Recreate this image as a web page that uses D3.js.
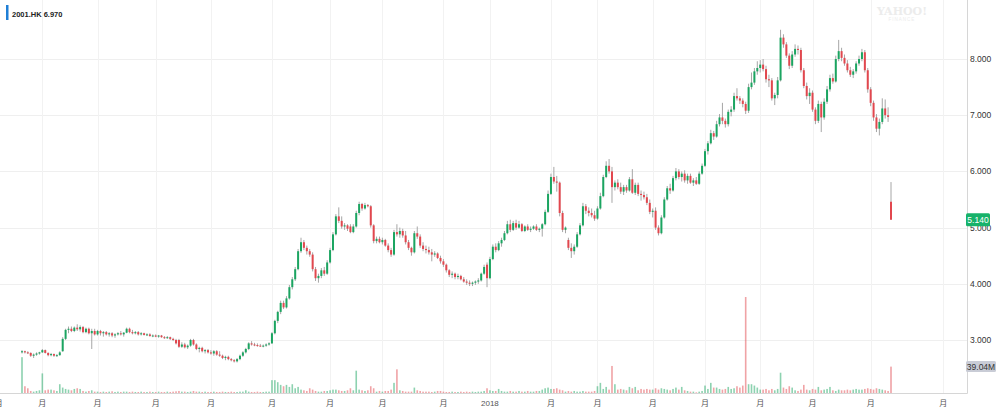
<!DOCTYPE html>
<html lang="zh">
<head>
<meta charset="utf-8">
<title>2001.HK</title>
<script src="https://d3js.org/d3.v7.min.js"></script>
<style>
  body { margin: 0; background: #fff; }
  text { font-family: "Helvetica Neue", Arial, "Liberation Sans", "Noto Sans CJK SC", sans-serif; }
</style>
</head>
<body>
<script>

// daily candles: [open, high, low, close]
var ohlc = [
  [2.78,2.82,2.76,2.80],[2.80,2.81,2.76,2.78],[2.78,2.80,2.75,2.77],[2.77,2.78,2.70,2.72],[2.72,2.76,2.68,2.74],
  [2.74,2.78,2.72,2.76],[2.76,2.79,2.74,2.78],[2.78,2.84,2.77,2.82],[2.82,2.83,2.76,2.77],[2.77,2.78,2.71,2.73],
  [2.73,2.77,2.71,2.75],[2.75,2.76,2.70,2.72],[2.72,2.75,2.70,2.73],[2.73,2.80,2.72,2.78],[2.80,3.05,2.79,3.02],
  [3.02,3.20,3.00,3.18],[3.18,3.24,3.12,3.20],[3.20,3.24,3.14,3.16],[3.16,3.24,3.14,3.22],[3.22,3.28,3.16,3.19],
  [3.19,3.26,3.15,3.23],[3.23,3.25,3.12,3.14],[3.14,3.22,3.12,3.20],[3.20,3.22,3.10,3.12],[3.12,3.20,2.84,3.16],
  [3.16,3.20,3.08,3.10],[3.10,3.18,3.08,3.16],[3.16,3.18,3.08,3.12],[3.12,3.16,3.06,3.14],[3.14,3.16,3.08,3.10],
  [3.10,3.14,3.06,3.12],[3.12,3.14,3.05,3.08],[3.08,3.12,3.04,3.10],[3.10,3.14,3.08,3.12],[3.12,3.16,3.08,3.10],
  [3.10,3.14,3.06,3.13],[3.13,3.22,3.12,3.20],[3.20,3.22,3.12,3.14],[3.14,3.18,3.10,3.12],[3.12,3.16,3.10,3.14],
  [3.14,3.16,3.08,3.10],[3.10,3.14,3.08,3.12],[3.12,3.13,3.08,3.09],[3.09,3.12,3.07,3.10],[3.10,3.12,3.06,3.07],
  [3.07,3.10,3.05,3.08],[3.08,3.10,3.05,3.06],[3.06,3.09,3.04,3.08],[3.08,3.09,3.04,3.05],[3.05,3.07,3.02,3.04],
  [3.04,3.07,3.02,3.05],[3.05,3.06,3.00,3.02],[3.02,3.04,2.98,3.00],[3.00,3.02,2.92,2.94],[3.00,3.02,2.86,2.88],
  [2.88,2.96,2.86,2.92],[2.92,2.95,2.85,2.87],[2.87,2.92,2.84,2.90],[2.90,3.02,2.88,3.00],[3.00,3.02,2.90,2.92],
  [2.92,2.94,2.82,2.84],[2.84,2.88,2.78,2.86],[2.86,2.88,2.78,2.80],[2.80,2.84,2.76,2.82],[2.82,2.84,2.76,2.78],
  [2.78,2.82,2.74,2.76],[2.76,2.82,2.72,2.80],[2.80,2.82,2.72,2.74],[2.74,2.80,2.70,2.72],[2.72,2.74,2.66,2.68],
  [2.68,2.72,2.64,2.70],[2.70,2.72,2.64,2.66],[2.66,2.68,2.62,2.64],[2.64,2.66,2.60,2.62],[2.62,2.68,2.60,2.66],
  [2.66,2.74,2.64,2.72],[2.72,2.80,2.70,2.78],[2.78,2.86,2.76,2.84],[2.84,2.96,2.82,2.94],[2.94,2.98,2.90,2.92],
  [2.92,2.95,2.89,2.91],[2.91,2.94,2.88,2.90],[2.90,2.93,2.88,2.89],[2.89,2.92,2.87,2.90],[2.90,2.94,2.88,2.92],
  [2.92,2.96,2.90,2.94],[2.94,3.14,2.93,3.12],[3.12,3.36,3.10,3.34],[3.34,3.52,3.30,3.50],[3.50,3.70,3.46,3.66],
  [3.66,3.70,3.55,3.58],[3.58,3.78,3.56,3.74],[3.74,3.98,3.72,3.94],[3.94,4.12,3.90,4.08],[4.08,4.30,4.05,4.26],
  [4.26,4.62,4.24,4.58],[4.58,4.82,4.55,4.74],[4.74,4.78,4.60,4.64],[4.64,4.68,4.52,4.58],[4.58,4.62,4.48,4.52],
  [4.52,4.56,4.22,4.26],[4.26,4.30,4.05,4.10],[4.10,4.18,4.02,4.14],[4.14,4.28,4.10,4.24],[4.24,4.30,4.14,4.18],
  [4.18,4.42,4.16,4.38],[4.38,4.64,4.36,4.60],[4.60,4.92,4.58,4.88],[4.88,5.24,4.86,5.20],[5.20,5.36,5.08,5.12],
  [5.12,5.20,4.98,5.02],[5.02,5.08,4.96,5.04],[5.04,5.06,4.94,4.98],[5.02,5.06,4.90,4.92],[4.92,5.06,4.90,5.02],
  [5.02,5.30,5.00,5.26],[5.26,5.46,5.22,5.42],[5.42,5.44,5.30,5.34],[5.34,5.44,5.32,5.40],[5.40,5.42,5.36,5.38],
  [5.38,5.40,5.00,5.04],[5.04,5.06,4.72,4.76],[4.76,4.84,4.72,4.80],[4.80,4.84,4.72,4.74],[4.74,4.82,4.70,4.78],
  [4.78,4.80,4.66,4.68],[4.68,4.72,4.56,4.60],[4.60,4.64,4.48,4.52],[4.52,4.96,4.50,4.92],[4.92,5.06,4.84,4.88],
  [4.88,5.00,4.82,4.94],[4.94,4.98,4.82,4.86],[4.86,4.94,4.70,4.74],[4.74,4.78,4.60,4.64],[4.64,4.66,4.50,4.56],
  [4.56,4.94,4.54,4.90],[4.90,5.02,4.80,4.84],[4.84,4.88,4.64,4.68],[4.68,4.74,4.58,4.62],[4.62,4.68,4.54,4.60],
  [4.60,4.66,4.52,4.56],[4.56,4.62,4.40,4.52],[4.52,4.58,4.48,4.54],[4.54,4.56,4.44,4.46],[4.46,4.50,4.36,4.40],
  [4.40,4.44,4.30,4.34],[4.34,4.36,4.20,4.24],[4.24,4.26,4.12,4.16],[4.16,4.22,4.10,4.18],[4.18,4.20,4.08,4.12],
  [4.12,4.18,4.08,4.14],[4.14,4.16,4.06,4.08],[4.08,4.12,4.02,4.04],[4.04,4.08,3.98,4.02],[4.02,4.06,3.96,4.00],
  [4.00,4.04,3.96,4.02],[4.02,4.06,3.98,4.04],[4.04,4.10,4.00,4.06],[4.06,4.20,4.04,4.18],[4.18,4.34,4.16,4.30],
  [4.34,4.38,3.94,4.10],[4.10,4.48,4.08,4.44],[4.44,4.70,4.42,4.66],[4.66,4.72,4.56,4.60],[4.60,4.76,4.58,4.72],
  [4.72,4.82,4.66,4.78],[4.78,4.94,4.76,4.90],[4.90,5.12,4.88,5.06],[5.06,5.14,4.92,4.96],[4.96,5.12,4.94,5.08],
  [5.08,5.14,4.96,5.00],[5.00,5.12,4.98,5.06],[5.06,5.08,4.92,4.94],[4.94,5.04,4.92,5.02],[5.02,5.06,4.94,4.96],
  [4.96,5.02,4.92,4.98],[4.98,5.04,4.96,5.02],[5.02,5.06,4.94,4.96],[4.96,5.00,4.92,4.98],[4.98,5.08,4.84,5.06],
  [5.06,5.32,5.04,5.28],[5.28,5.66,5.26,5.60],[5.60,5.96,5.58,5.90],[5.90,6.08,5.78,5.82],[5.82,5.92,5.64,5.80],
  [5.80,5.82,5.20,5.26],[5.26,5.30,4.92,4.96],[4.96,5.02,4.90,5.00],[4.78,4.82,4.60,4.64],[4.64,4.72,4.46,4.58],
  [4.58,4.70,4.52,4.66],[4.66,4.92,4.64,4.88],[4.88,5.08,4.86,5.04],[5.04,5.44,5.02,5.38],[5.38,5.42,5.24,5.30],
  [5.30,5.36,5.20,5.26],[5.26,5.34,5.18,5.22],[5.22,5.30,5.12,5.16],[5.16,5.38,5.14,5.34],[5.34,5.62,5.32,5.56],
  [5.56,5.94,5.54,5.90],[5.90,6.18,5.88,6.10],[6.10,6.22,5.96,6.00],[6.00,6.08,5.44,5.72],[5.72,5.84,5.66,5.80],
  [5.80,5.86,5.68,5.72],[5.72,5.80,5.60,5.64],[5.64,5.76,5.58,5.72],[5.72,5.76,5.62,5.66],[5.66,5.90,5.64,5.86],
  [5.86,6.04,5.60,5.62],[5.62,5.80,5.58,5.76],[5.76,5.80,5.56,5.60],[5.60,5.66,5.48,5.58],[5.58,5.64,5.50,5.54],
  [5.54,5.60,5.40,5.44],[5.44,5.50,5.24,5.28],[5.28,5.34,5.18,5.30],[5.30,5.36,4.96,5.00],[5.00,5.04,4.86,4.90],
  [4.90,5.22,4.88,5.18],[5.18,5.54,5.16,5.50],[5.50,5.74,5.48,5.70],[5.70,5.78,5.60,5.66],[5.66,5.92,5.64,5.88],
  [5.88,6.06,5.84,6.00],[6.00,6.04,5.86,5.90],[5.90,6.00,5.82,5.96],[5.96,6.02,5.80,5.84],[5.84,5.96,5.78,5.92],
  [5.92,5.96,5.78,5.80],[5.80,5.88,5.74,5.84],[5.84,5.90,5.76,5.78],[5.78,6.00,5.76,5.96],[5.96,6.14,5.94,6.10],
  [6.10,6.40,6.08,6.36],[6.36,6.54,6.30,6.50],[6.50,6.74,6.48,6.68],[6.68,6.72,6.56,6.62],[6.62,6.90,6.60,6.84],
  [6.84,7.02,6.80,6.96],[6.96,7.22,6.84,6.90],[6.90,6.94,6.78,6.84],[6.84,7.10,6.80,7.06],[7.06,7.16,6.98,7.10],
  [7.10,7.40,7.06,7.34],[7.34,7.48,7.26,7.30],[7.30,7.34,7.20,7.26],[7.26,7.30,7.14,7.20],[7.20,7.24,7.02,7.08],
  [7.08,7.56,7.04,7.50],[7.50,7.76,7.46,7.58],[7.58,7.84,7.54,7.78],[7.78,7.96,7.72,7.84],[7.84,7.98,7.76,7.90],
  [7.90,8.00,7.78,7.82],[7.82,7.88,7.58,7.64],[7.64,7.72,7.50,7.62],[7.62,7.66,7.26,7.30],[7.30,7.40,7.18,7.36],
  [7.36,7.68,7.30,7.62],[7.62,8.52,7.60,8.38],[8.38,8.44,8.20,8.26],[8.26,8.30,8.02,8.06],[8.06,8.10,7.82,7.88],
  [7.88,8.14,7.84,8.08],[8.08,8.26,8.04,8.18],[8.18,8.24,8.08,8.16],[8.16,8.20,7.76,7.80],[7.80,7.84,7.48,7.52],
  [7.52,7.58,7.28,7.34],[7.34,7.48,7.20,7.40],[7.40,7.44,7.06,7.10],[7.10,7.14,6.84,6.90],[6.90,7.26,6.86,7.20],
  [7.20,7.24,6.70,6.96],[6.96,7.30,6.92,7.24],[7.24,7.52,7.20,7.46],[7.46,7.72,7.42,7.66],[7.66,7.74,7.56,7.60],
  [7.60,8.06,7.58,8.00],[8.00,8.34,7.96,8.14],[8.14,8.20,7.96,8.02],[8.02,8.08,7.88,7.92],[7.92,7.98,7.76,7.80],
  [7.80,7.86,7.68,7.72],[7.72,7.82,7.66,7.78],[7.78,7.96,7.74,7.92],[7.92,8.06,7.88,8.00],[8.00,8.18,7.96,8.12],
  [8.12,8.16,7.76,7.80],[7.80,7.84,7.40,7.46],[7.46,7.50,7.16,7.22],[7.22,7.26,6.90,6.96],[6.96,7.02,6.70,6.76],
  [6.76,6.94,6.64,6.88],[6.88,7.30,6.84,7.12],[7.12,7.28,6.94,7.00],[7.00,7.14,6.88,6.97],[5.46,5.81,5.14,5.14]
];

// daily volume, millions of shares
var volume = [
  53,10,7,3,2,3,4,29,4,5,  5,4,3,13,8,6,5,4,6,7,  6,3,2,3,4,2,2,1.5,2,1.5,
  2,2.5,1.5,2,1.5,2,2,1.5,2,1.5,  1.5,2,1.5,1.5,2,1.5,1.5,2,1.5,1.5,  2,1.5,2,2.5,3,2,2,1.5,2,3,
  2,2,1.5,2,1.5,1.5,2,1.5,1.5,2,  1.5,1.5,2,1.5,1.5,2,2,4,2,1.5,  1.5,2,1.5,1.5,2,2,19,19,16,12,
  10,12,9,13,7,9,5,4,3,7,  5,3,2,2,3,3,4,5,5,4,  3,3,4,7,4,33,5,4,3,4,
  10,7,2,3,2,3,3,5,15,35,  4,3,2,2,2,8,4,3,2,2,  2,1.5,2,3,3,2,1.5,1.5,2,1.5,
  1.5,2,1.5,2,1.5,2,1.5,2,2,3,  7,4,3,3,6,3,2,2,3,2,  2,3,2,2,3,2,2,3,3,5,
  7,8,6,6,7,5,4,2,3,2,  3,2,2,3,2,2,2,3,10,15,  6,9,5,40,13,5,6,5,4,9,
  7,9,4,6,5,6,5,5,7,5,  7,6,5,4,6,8,5,9,4,3,  2,2,1,2,3,11,6,15,8,8,
  6,5,6,9,6,7,10,8,11,142,  13,13,11,8,5,5,6,4,6,4,  6,30,8,6,10,8,4,3,5,12,
  5,4,6,5,9,4,5,6,9,4,  3,5,4,4,5,4,5,6,5,5,  6,7,6,5,7,6,5,4,3,39.04
];

// month ticks (candle index) and their labels
var tickIndex  = [-8, 7, 26, 46, 65, 86, 106, 124, 145, 161, 182, 198, 217, 235, 254, 272, 292, 317];
var tickLabels = ["月","月","月","月","月","月","月","月","月","2018","月","月","月","月","月","月","月","月"];
var priceTicks = [3, 4, 5, 6, 7, 8];

var ticker = "2001.HK";
var lastClose = "6.970";
var quoteText = "5.140";
var volumeText = "39.04M";

// size of svg
var w = 1000;
var h = 411;
var plotRight = 967;
var plotBottom = 393;

var green = "#1ba561";
var red = "#e2474e";
var wickColor = "#a6a6a6";

// scales
var xScale = d3.scaleLinear().domain([0, ohlc.length - 1]).range([22, 891]);
var yScale = d3.scaleLinear().domain([3, 8]).range([340, 59]);
var vScale = d3.scaleLinear().domain([0, d3.max(volume)]).range([plotBottom, 297]);

var svg = d3.select("body").append("svg").attr("width", w).attr("height", h);
svg.append("rect").attr("width", w).attr("height", h).attr("fill", "#fff");

// grid
svg.append("g").selectAll("line").data(priceTicks).enter().append("line")
  .attr("x1", 0).attr("x2", plotRight)
  .attr("y1", d => Math.round(yScale(d)) + 0.5).attr("y2", d => Math.round(yScale(d)) + 0.5)
  .attr("stroke", "#efefef");
svg.append("g").selectAll("line").data(tickIndex).enter().append("line")
  .attr("x1", d => Math.round(xScale(d)) + 0.5).attr("x2", d => Math.round(xScale(d)) + 0.5)
  .attr("y1", 0).attr("y2", plotBottom)
  .attr("stroke", "#f2f2f2");

// watermark
svg.append("text").attr("x", 902).attr("y", 15).attr("text-anchor", "middle")
  .attr("font-size", 11).attr("font-weight", "bold").attr("fill", "#ececec")
  .style("font-family", "Georgia, 'DejaVu Serif', serif").text("YAHOO!");
svg.append("text").attr("x", 902).attr("y", 21).attr("text-anchor", "middle")
  .attr("font-size", 4.5).attr("fill", "#ececec").attr("letter-spacing", 1).text("FINANCE");

// volume
svg.append("g").selectAll("rect").data(volume).enter().append("rect")
  .attr("x", (d, i) => xScale(i) - 0.8)
  .attr("width", 1.6)
  .attr("y", d => vScale(d))
  .attr("height", d => plotBottom - vScale(d))
  .attr("fill", (d, i) => ohlc[i][3] >= ohlc[i][0] ? green : red)
  .attr("opacity", 0.5);

// wicks
svg.append("g").selectAll("line").data(ohlc).enter().append("line")
  .attr("x1", (d, i) => xScale(i)).attr("x2", (d, i) => xScale(i))
  .attr("y1", d => yScale(d[1])).attr("y2", d => yScale(d[2]))
  .attr("stroke", wickColor).attr("stroke-width", 1);

// bodies
svg.append("g").selectAll("rect").data(ohlc).enter().append("rect")
  .attr("x", (d, i) => xScale(i) - 1)
  .attr("width", 2)
  .attr("y", d => yScale(Math.max(d[0], d[3])))
  .attr("height", d => Math.max(1, Math.abs(yScale(d[0]) - yScale(d[3]))))
  .attr("fill", d => d[3] >= d[0] ? green : red);

// frame
svg.append("line").attr("x1", 0).attr("x2", plotRight + 0.5).attr("y1", plotBottom + 0.5).attr("y2", plotBottom + 0.5)
  .attr("stroke", "#d6d6d6");
svg.append("line").attr("x1", plotRight + 0.5).attr("x2", plotRight + 0.5).attr("y1", 0).attr("y2", plotBottom + 0.5)
  .attr("stroke", "#d6d6d6");

// price labels
svg.append("g").selectAll("text").data(priceTicks).enter().append("text")
  .attr("x", 970).attr("y", d => yScale(d)).attr("dy", "0.35em")
  .attr("font-size", 8.5).attr("fill", "#333")
  .text(d => d3.format(".3f")(d));

// month labels
svg.append("g").selectAll("text").data(tickIndex).enter().append("text")
  .attr("x", d => xScale(d)).attr("y", 403).attr("dy", "0.35em")
  .attr("text-anchor", "middle").attr("font-size", 8).attr("fill", "#555")
  .text((d, i) => tickLabels[i]);

// last quote tag
var qy = yScale(+quoteText);
svg.append("rect").attr("x", 966).attr("y", qy - 6.5).attr("width", 24).attr("height", 13).attr("rx", 1.5)
  .attr("fill", "#17b26a");
svg.append("text").attr("x", 978).attr("y", qy).attr("dy", "0.35em").attr("text-anchor", "middle")
  .attr("font-size", 8.5).attr("fill", "#fff").text(quoteText);

// volume tag
var vy = vScale(volume[volume.length - 1]);
svg.append("rect").attr("x", 966).attr("y", vy - 5.5).attr("width", 30).attr("height", 11).attr("rx", 1.5)
  .attr("fill", "#c9ccd6");
svg.append("text").attr("x", 981).attr("y", vy).attr("dy", "0.35em").attr("text-anchor", "middle")
  .attr("font-size", 8.5).attr("fill", "#333").text(volumeText);

// legend top left
svg.append("rect").attr("x", 6).attr("y", 5).attr("width", 2.5).attr("height", 15).attr("fill", "#1f7fd6");
svg.append("text").attr("x", 12).attr("y", 14).attr("dy", "0.35em")
  .attr("font-size", 7.5).attr("font-weight", 600).attr("fill", "#222")
  .text(ticker + " " + lastClose);

</script>
</body>
</html>
